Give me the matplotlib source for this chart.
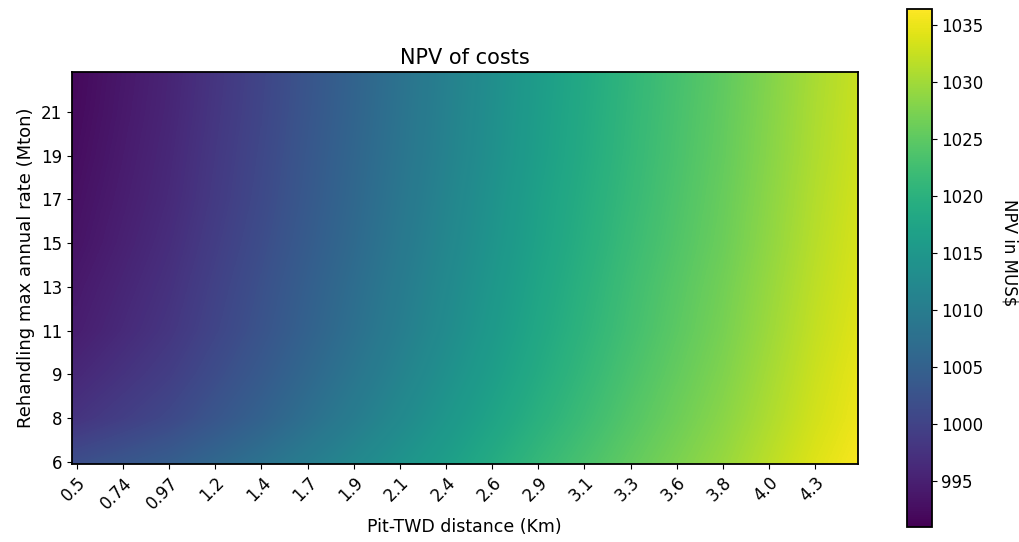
import numpy as np
import matplotlib
matplotlib.use("Agg")
import matplotlib.pyplot as plt

# tick labels as printed on the chart
x_labels = ["0.5", "0.74", "0.97", "1.2", "1.4", "1.7", "1.9", "2.1", "2.4",
            "2.6", "2.9", "3.1", "3.3", "3.6", "3.8", "4.0", "4.3"]
y_labels = ["6", "8", "9", "11", "13", "15", "17", "19", "21"]

# NPV (MUS$), one row per rehandling rate (top row first),
# one column every second distance tick (0.5, 0.97, 1.4, ... 4.3, then past the edge)
npv_top = [992.1, 995.6, 1000.3, 1005.4, 1010.7, 1016.0, 1020.8, 1025.2, 1030.5, 1034.9]
npv_21 = [992.3, 995.8, 1000.5, 1005.6, 1010.9, 1016.2, 1021.0, 1025.4, 1030.7, 1035.1]
npv_19 = [992.6, 996.1, 1000.8, 1005.9, 1011.1, 1016.4, 1021.2, 1025.6, 1030.9, 1035.3]
npv_17 = [993.0, 996.4, 1001.1, 1006.2, 1011.5, 1016.8, 1021.5, 1025.9, 1031.2, 1035.6]
npv_15 = [993.4, 996.9, 1001.6, 1006.6, 1011.9, 1017.1, 1021.9, 1026.2, 1031.5, 1035.9]
npv_13 = [994.1, 997.5, 1002.2, 1007.2, 1012.4, 1017.6, 1022.4, 1026.7, 1031.9, 1036.1]
npv_11 = [994.7, 998.1, 1002.7, 1007.7, 1012.9, 1018.1, 1022.8, 1027.1, 1032.3, 1036.5]
npv_9 = [996.1, 999.3, 1003.8, 1008.7, 1013.8, 1018.8, 1023.5, 1027.7, 1032.8, 1037.0]
npv_8 = [997.8, 1000.9, 1005.2, 1010.0, 1014.9, 1019.8, 1024.3, 1028.4, 1033.3, 1037.3]
npv_6 = [1001.8, 1004.3, 1008.0, 1012.1, 1016.4, 1021.2, 1025.4, 1029.3, 1034.1, 1037.9]

grid = np.array([npv_top, npv_21, npv_19, npv_17, npv_15, npv_13,
                 npv_11, npv_9, npv_8, npv_6])

fig = plt.figure(figsize=(10.19, 5.42), dpi=100)
ax = fig.add_axes([0.0704, 0.1439, 0.7713, 0.7232])
cax = fig.add_axes([0.8898, 0.0282, 0.0245, 0.9546])

# columns sit on every second x tick, rows on every y tick
ncol = grid.shape[1]
nrow = grid.shape[0]
im = ax.imshow(grid, cmap="viridis", vmin=991.0, vmax=1036.4,
               interpolation="bilinear", aspect="auto", origin="upper",
               extent=(-1, 2 * ncol - 1, -0.5, nrow - 0.5))
ax.set_xlim(-0.11, 16.92)
ax.set_ylim(-0.05, 8.91)

ax.set_xticks(range(len(x_labels)))
ax.set_xticklabels(x_labels, rotation=45, ha="right", rotation_mode="anchor", fontsize=12)
ax.set_yticks(range(len(y_labels)))
ax.set_yticklabels(y_labels, fontsize=12)
for s in ax.spines.values():
    s.set_linewidth(1.3)

ax.set_title("NPV of costs", fontsize=15, pad=6)
ax.set_xlabel("Pit-TWD distance (Km)", fontsize=12.5)
ax.set_ylabel("Rehandling max annual rate (Mton)", fontsize=13)

cbar = fig.colorbar(im, cax=cax, ticks=np.arange(995, 1036, 5))
cbar.ax.tick_params(labelsize=12)
cbar.outline.set_linewidth(1.3)
cbar.set_label("NPV in MUS$", rotation=270, fontsize=12, labelpad=25)
cbar.ax.yaxis.label.set_y(0.53)

fig.savefig("out.png", dpi=100)
